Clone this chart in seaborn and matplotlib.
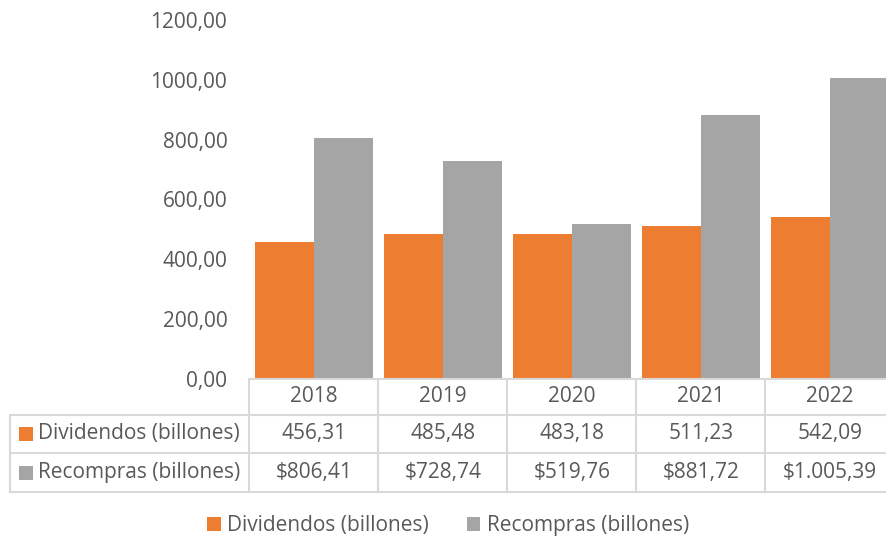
import matplotlib

matplotlib.use("Agg")
import matplotlib.pyplot as plt
import matplotlib.transforms as mtransforms
from matplotlib.lines import Line2D
from matplotlib.patches import Rectangle
from matplotlib.ticker import FuncFormatter
import pandas as pd
import seaborn as sns

years = ["2018", "2019", "2020", "2021", "2022"]
dividendos = [456.31, 485.48, 483.18, 511.23, 542.09]
recompras = [806.41, 728.74, 519.76, 881.72, 1005.39]
series_names = ["Dividendos (billones)", "Recompras (billones)"]
colors = ["#ED7D31", "#A5A5A5"]
y_ticks = [0, 200, 400, 600, 800, 1000, 1200]

TEXT = "#595959"
GRID = "#D9D9D9"
W, H = 886, 540


def es_number(value, prefix=""):
    text = f"{value:,.2f}".replace(",", "X").replace(".", ",").replace("X", ".")
    return prefix + text


def fx(px):
    return px / W


def fy(py):
    return 1 - py / H


frame = pd.DataFrame({
    "year": years * 2,
    "value": dividendos + recompras,
    "series": [series_names[0]] * len(years) + [series_names[1]] * len(years),
})

sns.set_theme(style="white")
plt.rcParams["font.family"] = ["Open Sans", "DejaVu Sans"]
font_size = 15

fig = plt.figure(figsize=(W / 100, H / 100), dpi=100)
ax = fig.add_axes([fx(249.5), fy(379), fx(894.5 - 249.5), 359 / H])

sns.barplot(data=frame, x="year", y="value", hue="series", palette=colors,
            width=0.915, saturation=1, linewidth=0, ax=ax)
ax.get_legend().remove()

ax.set_xlim(-0.5, len(years) - 0.5)
ax.set_ylim(0, 1200)
ax.set_yticks(y_ticks)
ax.yaxis.set_major_formatter(FuncFormatter(lambda v, _: es_number(v).replace(".", "")))
ax.tick_params(axis="y", length=0, pad=16, labelsize=font_size, labelcolor=TEXT)
ax.set_xticks([])
ax.set_xlabel("")
ax.set_ylabel("")
for side in ["top", "right", "left"]:
    ax.spines[side].set_visible(False)
ax.spines["bottom"].set_color(GRID)
ax.spines["bottom"].set_linewidth(1.5)

# data table under the plot
blend = mtransforms.blended_transform_factory(ax.transData, fig.transFigure)
row_lines = [379, 415, 453, 492]
line_kw = dict(color=GRID, linewidth=1.5)
for py in row_lines[1:]:
    fig.add_artist(Line2D([fx(10), fx(W + 10)], [fy(py), fy(py)], **line_kw))
for k in range(len(years) + 1):
    ax_x = k - 0.5
    fig.add_artist(Line2D([ax_x, ax_x], [fy(379), fy(492)], transform=blend, **line_kw))
fig.add_artist(Line2D([fx(10), fx(10)], [fy(415), fy(492)], **line_kw))

row_centers = [397, 434, 472.5]
for i, year in enumerate(years):
    fig.text(i, fy(row_centers[0]), year, transform=blend, ha="center", va="center",
             fontsize=font_size, color=TEXT)
    fig.text(i, fy(row_centers[1]), es_number(dividendos[i]), transform=blend,
             ha="center", va="center", fontsize=font_size, color=TEXT)
    fig.text(i, fy(row_centers[2]), es_number(recompras[i], "$"), transform=blend,
             ha="center", va="center", fontsize=font_size, color=TEXT)

for name, color, yc in zip(series_names, colors, row_centers[1:]):
    fig.add_artist(Rectangle((fx(19), fy(yc + 7)), fx(14), 14 / H, color=color, linewidth=0))
    fig.text(fx(38), fy(yc), name, ha="left", va="center", fontsize=font_size, color=TEXT)

handles, labels = ax.get_legend_handles_labels()
fig.legend(handles, labels, loc="center", bbox_to_anchor=(fx(448), fy(526)), ncol=2,
           frameon=False, fontsize=font_size, labelcolor=TEXT, handlelength=0.67,
           handleheight=0.67, handletextpad=0.3, columnspacing=1.8)

fig.savefig("out.png", dpi=100)
plt.close(fig)
